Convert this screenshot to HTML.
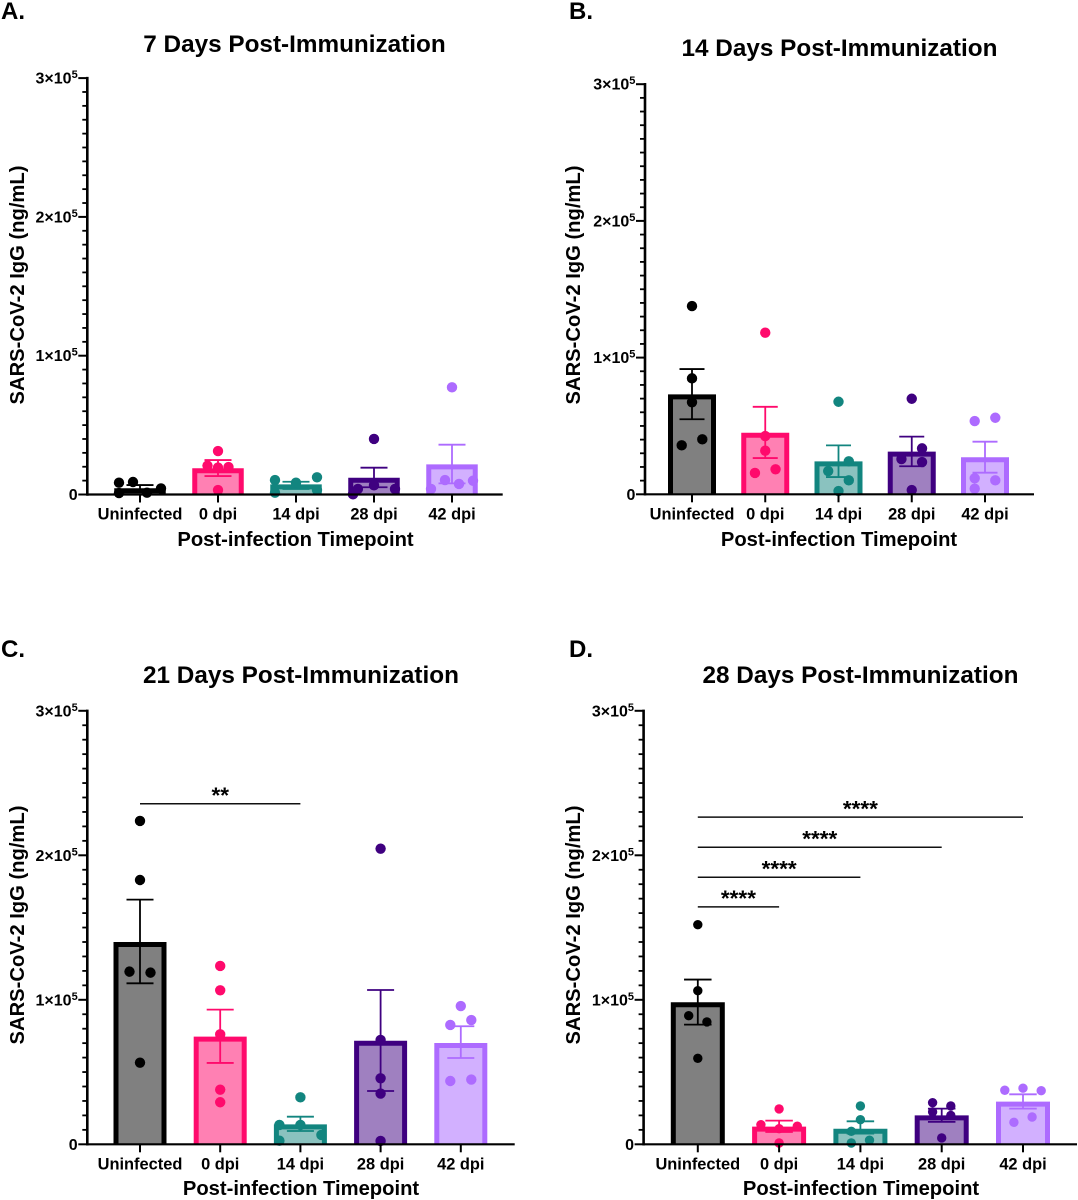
<!DOCTYPE html>
<html lang="en">
<head>
<meta charset="utf-8">
<title>SARS-CoV-2 IgG Post-Immunization</title>
<style>
html,body{margin:0;padding:0;background:#fff;width:1078px;height:1200px;overflow:hidden}
svg{display:block}
text{font-family:"Liberation Sans",Arial,sans-serif;font-weight:bold;fill:#000}
.panel-letter{font-size:24px}
.title{font-size:24.3px;text-anchor:middle}
.axis-title{font-size:20.2px;text-anchor:middle}
.cat{font-size:16.4px;text-anchor:middle}
.ytick{font-size:16px;text-anchor:end}
.stars{font-size:22.5px;text-anchor:middle}
</style>
</head>
<body>
<svg id="figure" width="1078" height="1200" viewBox="0 0 1078 1200" xmlns="http://www.w3.org/2000/svg">
  <rect width="1078" height="1200" fill="#fff"/>
  <text class="panel-letter" x="1" y="19">A.</text>
  <text class="panel-letter" x="569" y="19">B.</text>
  <text class="panel-letter" x="1" y="657">C.</text>
  <text class="panel-letter" x="569" y="657">D.</text>
  <text class="title" x="294.5" y="52">7 Days Post-Immunization</text>
  <text class="title" x="839.5" y="56">14 Days Post-Immunization</text>
  <text class="title" x="301" y="683">21 Days Post-Immunization</text>
  <text class="title" x="860.5" y="683">28 Days Post-Immunization</text>
  <text class="axis-title" x="295.5" y="546">Post-infection Timepoint</text>
  <text class="axis-title" x="839" y="546">Post-infection Timepoint</text>
  <text class="axis-title" x="301" y="1195">Post-infection Timepoint</text>
  <text class="axis-title" x="861" y="1195">Post-infection Timepoint</text>
  <text class="axis-title" transform="translate(24 285) rotate(-90)">SARS-CoV-2 IgG (ng/mL)</text>
  <text class="axis-title" transform="translate(580 285) rotate(-90)">SARS-CoV-2 IgG (ng/mL)</text>
  <text class="axis-title" transform="translate(24 925) rotate(-90)">SARS-CoV-2 IgG (ng/mL)</text>
  <text class="axis-title" transform="translate(580 925) rotate(-90)">SARS-CoV-2 IgG (ng/mL)</text>
</svg>
<script>
const categories = ['Uninfected', '0 dpi', '14 dpi', '28 dpi', '42 dpi'];
const yTickValues = [0, 100000, 200000, 300000];
const yTickCoefficients = ['0', '1×10', '2×10', '3×10'];
const yTickExponents = ['', '5', '5', '5'];
const minorTicksPerMajor = 10;
const strokeColors = ['#000000', '#ff0a6c', '#12857f', '#3f0080', '#ad6bff'];
const fillColors = ['#808080', '#ff80b3', '#8ac2bf', '#9f80c0', '#d2b0ff'];

const meansA = [4500, 18900, 7300, 12100, 21700];
const errHighA = [6800, 24800, 9200, 19300, 35900];
const errLowA = [2000, 13300, 4000, 5200, 8000];
const pointsA = [
  [8500, 9000, 1000, 1300, 4400],
  [31300, 20800, 19800, 19400, 3200],
  [10400, 8500, 12400, 1300, 3200],
  [40000, 6600, 100, 4000, 4000],
  [77200, 10400, 7600, 9900, 4000]
];
const swarmSlotsA = [
  [-3, -1, -3, 1, 3],
  [0, -1.5, 1.5, 0, 0],
  [-3, 0, 3, -3, 3],
  [0, 0, -3, 3, -2.3],
  [0, -1, 1, 3, -3]
];

const meansB = [73100, 45000, 24100, 31200, 27100];
const errHighB = [91600, 64000, 35800, 42200, 38500];
const errLowB = [54900, 26500, 12600, 20500, 15800];
const pointsB = [
  [137700, 84800, 67300, 35800, 40200],
  [118200, 42600, 31900, 15600, 18300],
  [67700, 24100, 17000, 10200, 2400],
  [69900, 33600, 25800, 23600, 3100],
  [56000, 53600, 11700, 10200, 4100]
];
const swarmSlotsB = [
  [0, 0, 0, -1, 1],
  [0, 0, 0, -1, 1],
  [0, 1, -1, 1, 0],
  [0, 1, -1, 1, 0],
  [1, -1, -1, 1, -1]
];

const meansC = [140000, 74500, 13800, 71700, 70100];
const errHighC = [169300, 93200, 19100, 106800, 81700];
const errLowC = [111400, 56300, 9200, 36900, 59700];
const pointsC = [
  [223800, 182900, 119500, 118800, 56500],
  [123400, 106600, 76100, 37800, 29100],
  [32500, 13400, 13400, 6500, 2500],
  [204600, 72200, 45700, 35100, 2300],
  [95700, 86000, 82600, 43800, 44800]
];
const swarmSlotsC = [
  [0, 0, -1, 1, 0],
  [0, 0, 0, 0, 0],
  [0, -2, 0, 2, -2],
  [0, 0, 0, 0, 0],
  [0, 1, -1, -1, 1]
];

const meansD = [98300, 12200, 10800, 20000, 29500];
const errHighD = [114000, 16400, 15900, 24700, 34600];
const errLowD = [82800, 8500, 7400, 15500, 24700];
const pointsD = [
  [152000, 106300, 89000, 84700, 59500],
  [24500, 13600, 12500, 10800, 900],
  [26500, 17000, 9000, 2800, 900],
  [28800, 26500, 22400, 20000, 4400],
  [38800, 37400, 37100, 18900, 15200]
];
const swarmSlotsD = [
  [0, 0, -1, 1, 0],
  [0, -2, 2, 0, 0],
  [0, 0, -1, 1, -1],
  [-1, 1, -1, 1, 0],
  [0, -2, 2, 1, -1]
];

const sigStartC = [0];
const sigEndC = [2];
const sigLevelC = [235700];
const sigLabelC = ['**'];

const sigStartD = [0, 0, 0, 0];
const sigEndD = [1, 2, 3, 4];
const sigLevelD = [164300, 184800, 205600, 226400];
const sigLabelD = ['****', '****', '****', '****'];

const NS = 'http://www.w3.org/2000/svg';
const figure = document.getElementById('figure');

function svgEl(tag, parent, attrs) {
  const el = document.createElementNS(NS, tag);
  for (const k in attrs) el.setAttribute(k, attrs[k]);
  parent.appendChild(el);
  return el;
}

function drawPanel(id, layout, means, errHigh, errLow, points, slots, sigStart, sigEnd, sigLevel, sigLabel) {
  const g = svgEl('g', figure, {});
  
  

  const sx = i => layout.firstCenter + layout.step * i;
  const sy = v => layout.yZero - v * layout.pxPerUnit;

  means.forEach((mean, i) => {
    const cx = sx(i);
    const stroke = strokeColors[i];
    const sw = layout.barStroke;
    const top = sy(mean);
    const left = cx - layout.barWidth / 2 + sw / 2;
    const right = cx + layout.barWidth / 2 - sw / 2;
    const bar = svgEl('path', g, {
      d: 'M' + left + ' ' + layout.yZero + 'V' + (top + sw / 2) + 'H' + right + 'V' + layout.yZero,
      fill: fillColors[i], stroke: stroke, 'stroke-width': sw
    });
    
    

    const err = svgEl('path', g, {
      d: 'M' + (cx - layout.cap / 2) + ' ' + sy(errHigh[i]) + 'H' + (cx + layout.cap / 2) +
         'M' + cx + ' ' + sy(errHigh[i]) + 'V' + sy(errLow[i]) +
         'M' + (cx - layout.cap / 2) + ' ' + sy(errLow[i]) + 'H' + (cx + layout.cap / 2),
      fill: 'none', stroke: stroke, 'stroke-width': 1.8
    });
    
    

    points[i].forEach((value, j) => {
      const dot = svgEl('circle', g, {
        cx: cx + slots[i][j] * layout.slotWidth, cy: sy(value), r: layout.dotRadius, fill: stroke
      });
      
      
    });

    const tick = svgEl('line', g, {
      x1: cx, x2: cx, y1: layout.yZero, y2: layout.yZero + 8, stroke: '#000', 'stroke-width': 2
    });
    
    

    const label = svgEl('text', g, { x: cx, y: layout.yZero + 25, class: 'cat' });
    label.textContent = categories[i];
    
    
  });

  const top = sy(yTickValues[yTickValues.length - 1]);
  const yAxis = svgEl('line', g, {
    x1: layout.x0, x2: layout.x0, y1: top - 1.2, y2: layout.yZero + 1.2, stroke: '#000', 'stroke-width': 2.6
  });
  
  

  const xAxis = svgEl('line', g, {
    x1: layout.x0, x2: layout.xEnd, y1: layout.yZero, y2: layout.yZero, stroke: '#000', 'stroke-width': 2.2
  });
  
  

  yTickValues.forEach((value, i) => {
    const y = sy(value);
    const tick = svgEl('line', g, {
      x1: layout.x0 - 9, x2: layout.x0, y1: y, y2: y, stroke: '#000', 'stroke-width': 2
    });
    
    

    const label = svgEl('text', g, { x: layout.x0 - 9.6, y: y + 5.5, class: 'ytick' });
    
    
    label.appendChild(document.createTextNode(yTickCoefficients[i]));
    if (yTickExponents[i]) {
      const sup = svgEl('tspan', label, { dy: -5.5, 'font-size': '11px' });
      sup.textContent = yTickExponents[i];
    }

    if (i < yTickValues.length - 1) {
      const stepValue = (yTickValues[i + 1] - value) / minorTicksPerMajor;
      for (let m = 1; m < minorTicksPerMajor; m++) {
        const my = sy(value + stepValue * m);
        const minor = svgEl('line', g, {
          x1: layout.x0 - 5, x2: layout.x0, y1: my, y2: my, stroke: '#000', 'stroke-width': 1.8
        });
        
        
      }
    }
  });

  sigLevel.forEach((level, i) => {
    const y = sy(level);
    const x1 = sx(sigStart[i]);
    const x2 = sx(sigEnd[i]);
    const line = svgEl('line', g, { x1: x1, x2: x2, y1: y, y2: y, stroke: '#111', 'stroke-width': 1.5 });
    
    
    const stars = svgEl('text', g, { x: (x1 + x2) / 2, y: y - 0.9, class: 'stars' });
    stars.textContent = sigLabel[i];
    
    
  });
}

const layoutA = { x0: 87.3, xEnd: 502.7, yZero: 494.5, pxPerUnit: 138.8 / 100000, firstCenter: 140, step: 78, barWidth: 51.5, barStroke: 5, cap: 27, dotRadius: 5.2, slotWidth: 7 };
const layoutB = { x0: 645, xEnd: 1034, yZero: 494.3, pxPerUnit: 136.7 / 100000, firstCenter: 692, step: 73.25, barWidth: 48, barStroke: 5, cap: 25, dotRadius: 5.2, slotWidth: 10.3 };
const layoutC = { x0: 87.3, xEnd: 514.7, yZero: 1144.3, pxPerUnit: 144.5 / 100000, firstCenter: 140, step: 80.2, barWidth: 53, barStroke: 5, cap: 27, dotRadius: 5.2, slotWidth: 10.5 };
const layoutD = { x0: 643.6, xEnd: 1077, yZero: 1144.3, pxPerUnit: 144.5 / 100000, firstCenter: 697.8, step: 81.3, barWidth: 54, barStroke: 5, cap: 27.5, dotRadius: 4.7, slotWidth: 9.1 };

drawPanel('a', layoutA, meansA, errHighA, errLowA, pointsA, swarmSlotsA, [], [], [], []);
drawPanel('b', layoutB, meansB, errHighB, errLowB, pointsB, swarmSlotsB, [], [], [], []);
drawPanel('c', layoutC, meansC, errHighC, errLowC, pointsC, swarmSlotsC, sigStartC, sigEndC, sigLevelC, sigLabelC);
drawPanel('d', layoutD, meansD, errHighD, errLowD, pointsD, swarmSlotsD, sigStartD, sigEndD, sigLevelD, sigLabelD);
</script>
</body>
</html>
